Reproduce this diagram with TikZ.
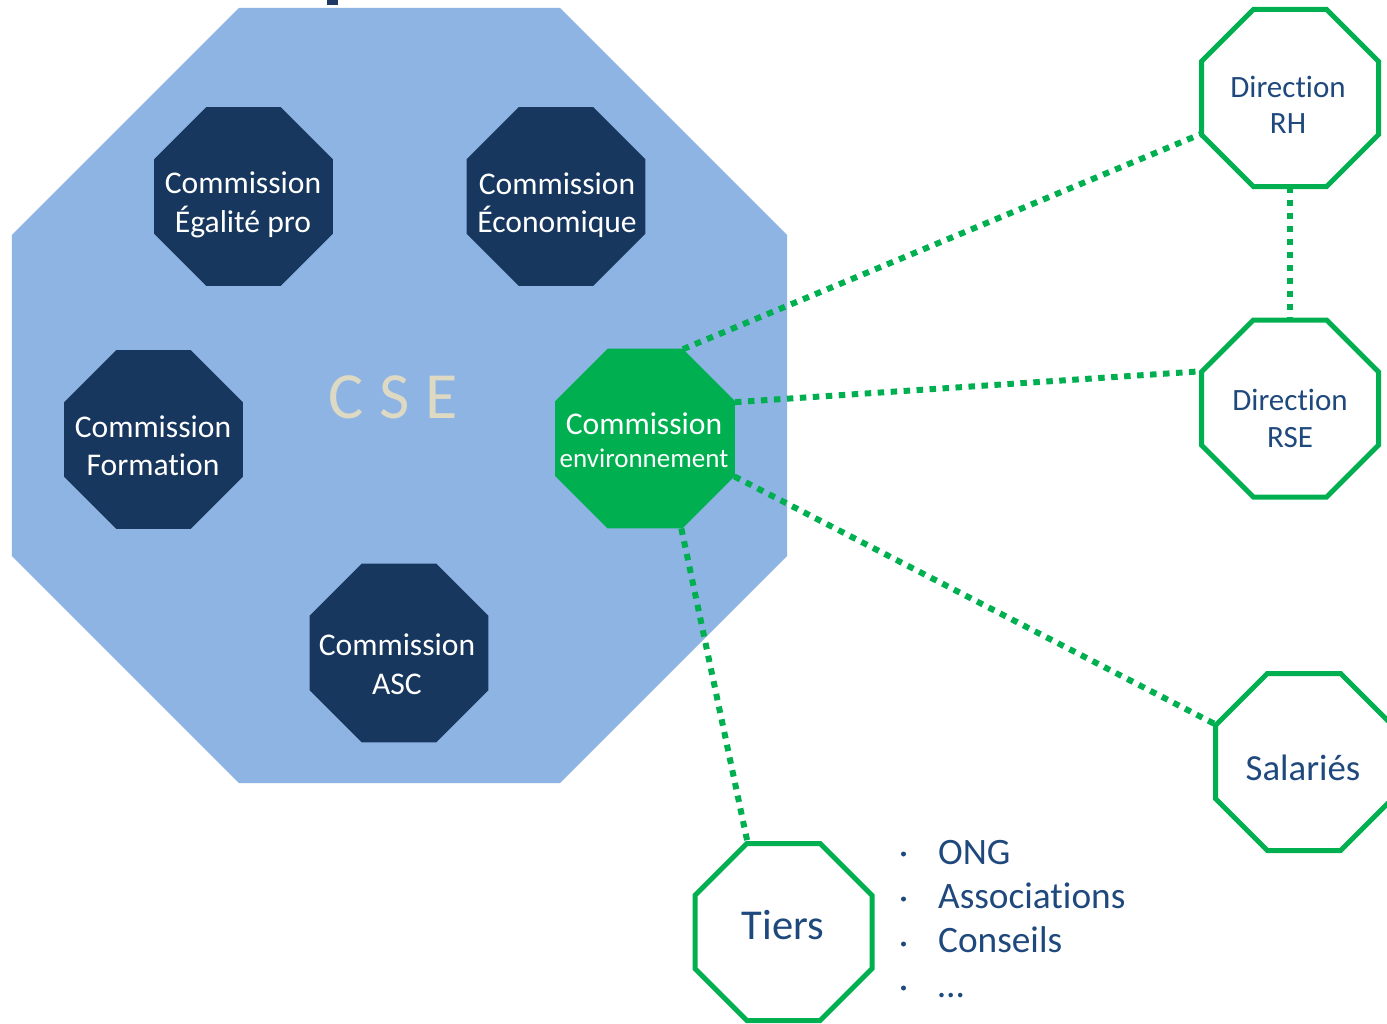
\documentclass[tikz,border=0pt]{standalone}
\usepackage{fontspec}
\setmainfont{Carlito}[Ligatures=NoCommon]
\usetikzlibrary{shapes.geometric}
\definecolor{cselight}{HTML}{8EB4E3}
\definecolor{navy}{HTML}{17375E}
\definecolor{titlenavy}{HTML}{1F3864}
\definecolor{envgreen}{HTML}{00B050}
\definecolor{txtblue}{HTML}{1F497D}
\definecolor{beige}{HTML}{DDD9C3}
\pgfdeclarelayer{bg}
\pgfdeclarelayer{mid}
\pgfsetlayers{bg,mid,main}
\tikzset{
  oct/.style={regular polygon, regular polygon sides=8, inner sep=0pt, outer sep=0pt},
  bigoct/.style={oct, fill=cselight, draw=none, minimum size=838.9pt},
  navyoct/.style={oct, fill=navy, draw=none, minimum size=193.7pt},
  greenoct/.style={oct, fill=envgreen, draw=none, minimum size=194.8pt},
  whiteoct/.style={oct, fill=white, draw=envgreen, line width=5pt, minimum size=191.6pt},
  link/.style={draw=envgreen, line width=6pt, dash pattern=on 6.5pt off 6.5pt, line cap=butt},
  wtxt/.style={text=white, anchor=base, inner sep=0pt, font=\fontsize{31.6}{37}\selectfont},
  btxt/.style={text=txtblue, anchor=base, inner sep=0pt},
  listtxt/.style={text=txtblue, anchor=base west, inner sep=0pt, font=\fontsize{37.3}{44}\selectfont},
  bul/.style={circle, fill=txtblue, draw=none, minimum size=5pt, inner sep=0pt},
}
\begin{document}
\begin{tikzpicture}[x=1pt,y=-1pt]
\useasboundingbox (0,0) rectangle (1387,1023);
\begin{pgfonlayer}{bg}
  \fill[white] (0,0) rectangle (1387,1023);
  \node[bigoct] (cse) at (399.5,395.5) {};
  \fill[titlenavy] (327,0) rectangle (338,5);
\end{pgfonlayer}

\node[navyoct] (egal) at (243.5,196.5) {};
\node[navyoct] (eco) at (556,196.5) {};
\node[navyoct] (form) at (153.5,439.5) {};
\node[navyoct] (asc) at (399,653) {};
\node[greenoct] (env) at (645,438.5) {};
\node[whiteoct] (rh) at (1290,98) {};
\node[whiteoct] (rse) at (1290,408.5) {};
\node[whiteoct] (sal) at (1304,762) {};
\node[whiteoct] (tiers) at (783.5,932) {};

\begin{pgfonlayer}{mid}
  \draw[link] (env.67.5) -- (rh.202.5);
  \draw[link] (env.22.5) -- (rse.157.5);
  \draw[link] (env.337.5) -- (sal.157.5);
  \draw[link] (env.292.5) -- (tiers.112.5);
  \draw[link] (rh.south) -- (rse.north);
\end{pgfonlayer}

% texts
\node[wtxt] (egal1) at (243,193) {Commission};
\node[wtxt] (egal2) at (243,232) {Égalité pro};
\node[wtxt] (eco1) at (557,194) {Commission};
\node[wtxt] (eco2) at (557,232) {Économique};
\node[wtxt] (form1) at (153,437) {Commission};
\node[wtxt] (form2) at (153,475) {Formation};
\node[wtxt] (asc1) at (397,655.5) {Commission};
\node[wtxt] (asc2) at (397,694) {ASC};
\node[wtxt] (env1) at (644,434.5) {Commission};
\node[wtxt, font=\fontsize{27}{31}\selectfont] (env2) at (644,467) {environnement};
\node[text=beige, anchor=base west, inner sep=0pt, font=\fontsize{66}{70}\selectfont] (csetxt) at (328,418) {C\kern16pt S\kern16pt E};

\node[btxt, font=\fontsize{31}{36}\selectfont] (rh1) at (1288,97) {Direction};
\node[btxt, font=\fontsize{31}{36}\selectfont] (rh2) at (1288,133) {RH};
\node[btxt, font=\fontsize{31}{36}\selectfont] (rse1) at (1290,410) {Direction};
\node[btxt, font=\fontsize{31}{36}\selectfont] (rse2) at (1290,447) {RSE};
\node[btxt, font=\fontsize{36.8}{44}\selectfont] (sal1) at (1303,780.5) {Salariés};
\node[btxt, font=\fontsize{42.5}{48}\selectfont] (tiers1) at (783,939) {Tiers};

\node[bul] (b1) at (903.5,854) {};
\node[bul] (b2) at (903.5,899) {};
\node[bul] (b3) at (903.5,944) {};
\node[bul] (b4) at (903.5,988) {};
\node[listtxt] (l1) at (938,864) {ONG};
\node[listtxt] (l2) at (938,908) {Associations};
\node[listtxt] (l3) at (938,952) {Conseils};
\node[listtxt] (l4) at (938,997) {…};
\end{tikzpicture}
\end{document}
